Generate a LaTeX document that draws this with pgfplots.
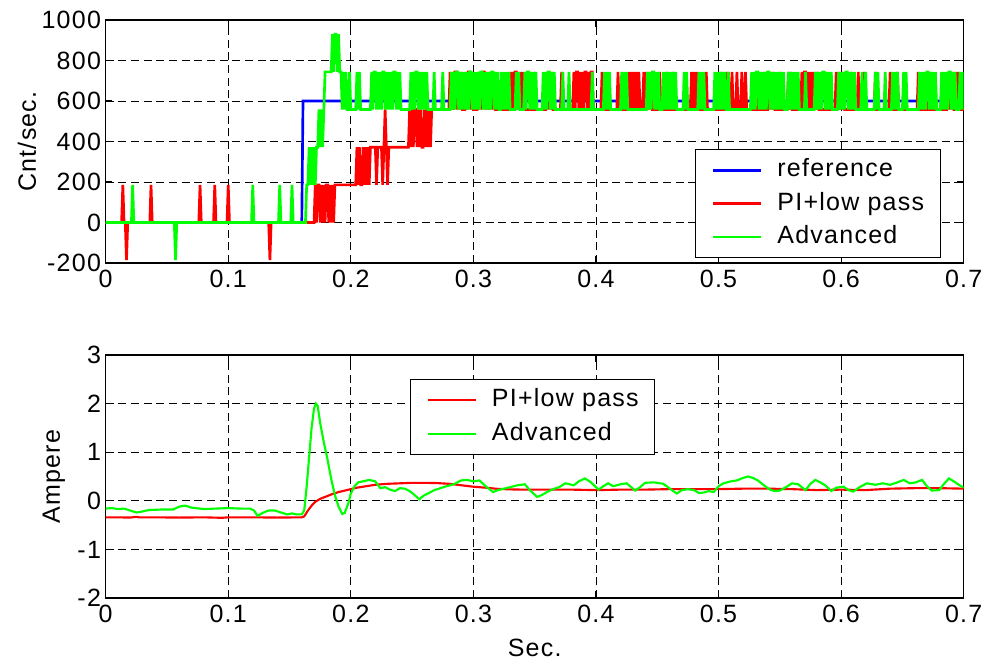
\documentclass[border=0pt]{standalone}
\usepackage{pgfplots}
\pgfplotsset{compat=1.18}
\usepackage{fontspec}
\setmainfont[LetterSpace=5]{Liberation Sans}
\definecolor{mblue}{RGB}{0,0,255}
\definecolor{mred}{RGB}{255,0,0}
\definecolor{mgreen}{RGB}{0,255,0}
\pgfplotsset{
  mstyle/.style={
    scale only axis, width=643.5pt, height=182.25pt,
    xmin=0, xmax=700, xtick={0,100,200,300,400,500,600,700},
    xticklabels={0,0.1,0.2,0.3,0.4,0.5,0.6,0.7},
    tick align=inside, major tick length=5pt,
    grid=major, major grid style={black, line width=0.5pt, dash pattern=on 6pt off 3.5pt},
    axis line style={line width=0.9pt},
    every tick/.style={black, line width=0.9pt},
    tick label style={font=\fontsize{18.75}{22}\selectfont},
    label style={font=\fontsize{18.75}{22}\selectfont},
    xticklabel style={yshift=-2pt},
    legend cell align=left,
    legend image code/.code={\draw[##1] (0pt,0pt) -- (36pt,0pt);},
    legend style={font=\fontsize{18.75}{22}\selectfont, draw=black, line width=0.9pt,
      inner xsep=12pt, inner ysep=4.5pt, row sep=3pt,
      nodes={inner xsep=0pt, inner ysep=2pt, text height=14pt, text depth=4pt},
      /tikz/every odd column/.append style={column sep=11.25pt}},
  }
}
\begin{document}
\begin{tikzpicture}
\useasboundingbox (1pt,0) rectangle (739pt,-495.75pt);
\begin{axis}[mstyle, at={(80.25pt,-15pt)}, anchor=north west,
  ymin=-200, ymax=1000, ytick={-200,0,200,400,600,800,1000},
  yticklabels={-200,0,200,400,600,800,1000},
  ylabel={Cnt/sec.}, ylabel style={at={(axis description cs:-0.0918,0.5)}, anchor=center},
  legend style={at={(0.687,0.469)}, anchor=north west}]
\addplot[mblue, line width=2pt] coordinates {(0,0)(160,0)(161,600)(700,600)};
\addlegendentry{reference}
\addplot[mred, line width=2pt] coordinates {
(0,0)(13,0)(14,186)(15,0)(16,0)(17,-186)(18,0)(36,0)(37,186)(38,0)(76,0)(77,186)(78,0)(88,0)(89,186)(90,0)(99,0)(100,186)(101,0)(133,0)(134,-186)(135,0)
(170,0)(171,186)(172,0)(173,186)(174,186)(175,0)(176,186)(177,0)(178,186)(179,0)(180,186)(181,186)(182,0)(183,186)(184,0)(185,186)(186,0)(187,186)(188,186)
(204,186)(205,372)(206,186)(207,372)(208,186)(209,186)(210,372)(211,186)(212,372)(213,186)(214,372)(215,186)(216,372)
(220,372)(221,186)(222,372)(225,372)(226,186)(227,372)(228,558)(229,372)(230,186)(231,372)
(247,372)(248,558)(249,372)(250,558)(251,372)(252,558)(253,558)(254,372)(255,558)(256,372)(257,558)(258,372)(259,372)(260,558)(261,372)(262,558)(263,372)(264,558)(265,372)(266,558)
(280,558)(281,744)(282,558)(283,744)(284,558)(285,744)(286,744)(287,558)(288,744)(289,558)(290,744)(291,558)
(293,558)(294,744)(295,558)(296,744)(297,744)(298,558)(299,744)(300,558)
(303,558)(304,744)(305,558)(306,744)(307,558)(308,744)(309,744)(310,558)(311,744)(312,558)(313,744)(314,558)(315,744)(316,558)(317,744)(318,558)
(329,558)(330,744)(331,558)(332,744)(333,558)(334,744)(335,744)(336,558)(337,744)(338,558)(339,744)(340,558)(341,744)(342,558)
(349,558)(350,744)(351,558)
(359,558)(360,744)(361,558)(362,744)(363,558)(364,744)(365,558)
(371,558)(372,744)(373,558)
(381,558)(382,744)(383,558)(384,744)(385,744)(386,558)(387,744)(388,558)(389,744)(390,558)(391,744)(392,744)(393,558)(394,744)(395,558)(396,744)(397,744)(398,558)
(404,558)(405,744)(406,558)
(417,558)(418,744)(419,558)
(426,558)(427,744)(428,558)(429,744)(430,558)(431,744)(432,558)(433,744)(434,558)(435,744)(436,558)
(438,558)(439,744)(440,558)(441,744)(442,558)(443,744)(444,558)(445,744)(446,558)
(451,558)(452,744)(453,558)(457,558)(458,744)(459,558)(462,558)(463,744)(464,558)
(477,558)(478,744)(479,558)(480,744)(481,558)(482,744)(483,558)
(489,558)(490,744)(491,558)
(501,558)(502,744)(503,558)(505,558)(506,744)(507,558)(508,744)(509,558)(510,558)(511,744)(512,558)(514,558)(515,744)(516,558)(518,558)(519,744)(520,558)(521,558)(522,744)(523,558)
(530,558)(531,744)(532,558)(536,558)(537,744)(538,558)
(540,558)(541,744)(542,558)(543,744)(544,558)(545,744)(546,558)
(549,558)(550,744)(551,558)
(556,558)(557,744)(558,558)(559,744)(560,558)
(567,558)(568,744)(569,558)(570,744)(571,744)(572,558)(573,744)(574,558)(575,744)(576,558)(577,744)(578,558)(579,744)(580,558)(581,744)(582,558)
(587,558)(588,744)(589,558)
(595,558)(596,744)(597,558)(598,744)(599,558)(600,744)(601,558)(602,744)(603,558)
(607,558)(608,744)(609,558)
(613,558)(614,744)(615,558)(618,558)(619,744)(620,558)
(627,558)(628,744)(629,558)
(639,558)(640,744)(641,558)(645,558)(646,744)(647,558)
(662,558)(663,744)(664,558)
(671,558)(672,744)(673,558)
(686,558)(687,744)(688,558)(689,744)(690,558)(691,744)(692,558)(693,558)(694,744)(695,558)(696,744)(697,558)(700,558)
};
\addlegendentry{PI+low pass}
\addplot[mgreen, line width=2pt] coordinates {
(0,0)(21,0)(22,186)(23,0)(56,0)(57,-186)(58,0)(119,0)(120,186)(121,0)(141,0)(142,186)(143,0)(151,0)(152,186)(153,0)(163,0)(164,186)(165,186)(166,372)(167,186)(168,372)(169,186)(170,372)(171,186)(172,372)(173,372)(174,558)(175,372)(176,558)(177,372)(178,558)(179,744)(184,744)(185,930)(186,744)(187,930)(188,930)(189,744)(190,930)(191,744)(192,744)(193,558)(194,744)(195,558)(196,744)(197,558)(198,558)(199,744)(200,558)
(204,558)(205,744)(206,558)(207,744)(208,558)
(216,558)(217,744)(218,558)(219,744)(220,744)(221,558)(222,744)(223,558)(224,744)(225,558)(226,744)(227,744)(228,558)(229,744)(230,558)(231,744)(232,558)(233,744)(234,558)(235,744)(236,744)(237,558)(238,744)(239,558)(240,744)(241,558)
(248,558)(249,744)(250,558)(251,744)(252,558)(253,744)(254,744)(255,558)(256,744)(257,558)(258,744)(259,558)(260,744)(261,558)(262,744)(263,558)
(267,558)(268,744)(269,558)(274,558)(275,744)(276,558)
(281,558)(282,744)(283,558)(284,744)(285,558)(286,744)(287,744)(288,558)(289,744)(290,558)(291,744)(292,558)(293,744)(294,558)(295,744)(296,558)(297,744)(298,744)(299,558)(300,744)(301,558)(302,744)(303,558)(304,744)(305,558)(306,744)(307,744)(308,558)(309,744)(310,558)(311,744)(312,558)(313,744)(314,558)(315,744)(316,744)(317,558)(318,744)(319,558)(320,744)(321,558)
(322,558)(323,744)(324,558)(325,744)(326,558)(327,744)(328,558)(329,744)(330,558)
(334,558)(335,744)(336,558)(337,744)(338,558)
(341,558)(342,744)(343,558)(344,744)(345,744)(346,558)(347,744)(348,558)(349,744)(350,558)(351,744)(352,558)
(356,558)(357,744)(358,558)(359,744)(360,558)(361,744)(362,744)(363,558)(364,744)(365,558)(366,744)(367,558)
(372,558)(373,744)(374,558)(377,558)(378,744)(379,558)
(396,558)(397,744)(398,558)
(406,558)(407,744)(408,558)(409,744)(410,558)(411,744)(412,558)
(420,558)(421,744)(422,558)(423,744)(424,558)(425,744)(426,558)
(441,558)(442,744)(443,558)(444,744)(445,558)(446,744)(447,744)(448,558)(449,744)(450,558)(451,744)(452,558)(454,558)(455,744)(456,558)(457,744)(458,558)(459,744)(460,558)(461,744)(462,558)(463,744)(464,558)(465,744)(466,558)
(471,558)(472,744)(473,558)(474,744)(475,558)
(483,558)(484,744)(485,558)(486,744)(487,558)(488,744)(489,558)
(496,558)(497,744)(498,558)(499,744)(500,558)(501,744)(502,558)(503,744)(504,558)(505,744)(506,558)(507,558)(508,744)(509,558)
(526,558)(527,744)(528,558)(529,744)(530,558)(531,744)(532,744)(533,558)(534,744)(535,558)(536,744)(537,558)(538,744)(539,558)(540,744)(541,744)(542,558)(543,744)(544,558)(545,744)(546,558)(547,744)(548,558)(549,744)(550,558)(551,744)(552,558)(553,744)(554,558)
(556,558)(557,744)(558,558)(559,744)(560,558)(561,744)(562,558)(563,744)(564,558)(565,744)(566,558)
(570,558)(571,744)(572,558)
(578,558)(579,744)(580,558)(581,744)(582,558)(583,744)(584,558)(585,744)(586,744)(587,558)(588,744)(589,558)(590,744)(591,558)(592,744)(593,558)
(597,558)(598,744)(599,558)(600,744)(601,558)(602,744)(603,558)(604,744)(605,744)(606,558)(607,744)(608,558)(609,744)(610,558)(611,744)(612,558)
(616,558)(617,744)(618,558)(619,558)(620,744)(621,558)
(627,558)(628,744)(629,558)(630,744)(631,558)
(635,558)(636,744)(637,558)
(641,558)(642,744)(643,558)(644,744)(645,558)(646,744)(647,558)
(650,558)(651,744)(652,558)(653,744)(654,558)
(663,558)(664,744)(665,558)(666,744)(667,558)(668,744)(669,558)(670,744)(671,744)(672,558)(673,744)(674,558)(675,744)(676,558)(677,744)(678,558)
(681,558)(682,744)(683,558)(684,744)(685,558)(686,744)(687,558)(688,744)(689,744)(690,558)(691,744)(692,558)(693,744)(694,558)
(696,558)(697,744)(698,558)(699,744)(700,558)
};
\addlegendentry{Advanced}
\end{axis}
\begin{axis}[mstyle, at={(80.25pt,-266.25pt)}, anchor=north west,
  ymin=-2, ymax=3, ytick={-2,-1,0,1,2,3},
  yticklabels={-2,-1,0,1,2,3},
  ylabel={Ampere}, ylabel style={at={(axis description cs:-0.0604,0.5)}, anchor=center},
  xlabel={Sec.}, xlabel style={at={(axis description cs:0.5,-0.206)}, anchor=center},
  legend style={at={(0.355,0.901)}, anchor=north west}]
\addplot[mred, line width=1.6pt] coordinates {
(0,-0.34)(10,-0.34)(20,-0.345)(25,-0.33)(27,-0.34)(40,-0.34)(60,-0.345)(80,-0.34)(95,-0.35)(100,-0.34)(120,-0.34)(140,-0.345)(160,-0.34)(162,-0.32)(165,-0.2)(168,-0.1)(171,-0.02)(175,0.04)(180,0.09)(185,0.14)(190,0.18)(195,0.21)(200,0.24)(205,0.27)(210,0.29)(215,0.31)(220,0.33)(230,0.35)(240,0.36)(250,0.37)(260,0.37)(270,0.365)(280,0.35)(290,0.32)(300,0.29)(310,0.27)(320,0.245)(330,0.235)(340,0.23)(350,0.23)(360,0.23)(380,0.23)(400,0.22)(420,0.23)(440,0.23)(460,0.24)(480,0.24)(500,0.24)(520,0.25)(540,0.25)(560,0.24)(580,0.22)(600,0.23)(620,0.22)(640,0.25)(660,0.26)(680,0.26)(700,0.25)
};
\addlegendentry{PI+low pass}
\addplot[mgreen, line width=1.6pt] coordinates {
(0,-0.16)(5,-0.15)(10,-0.17)(15,-0.16)(20,-0.2)(25,-0.24)(30,-0.22)(35,-0.19)(45,-0.18)(55,-0.18)(60,-0.12)(65,-0.1)(70,-0.14)(80,-0.17)(90,-0.16)(100,-0.15)(110,-0.16)(118,-0.16)(121,-0.2)(124,-0.31)(128,-0.25)(133,-0.2)(138,-0.2)(143,-0.24)(148,-0.28)(152,-0.26)(156,-0.28)(160,-0.28)(162,-0.2)(164,0.3)(166,0.9)(168,1.5)(170,1.9)(171.5,2.0)(173,1.95)(175,1.6)(178,1.2)(181,0.85)(184,0.45)(187,0.12)(190,-0.12)(193,-0.27)(195,-0.25)(198,-0.05)(200,0.15)(203,0.3)(206,0.38)(210,0.4)(215,0.43)(220,0.4)(224,0.26)(228,0.28)(232,0.23)(236,0.2)(240,0.26)(244,0.25)(248,0.2)(252,0.12)(256,0.03)(259,0.1)(263,0.15)(268,0.22)(272,0.25)(278,0.3)(284,0.34)(290,0.42)(295,0.43)(300,0.4)(305,0.42)(310,0.3)(316,0.18)(320,0.22)(325,0.25)(330,0.28)(336,0.32)(342,0.34)(346,0.22)(352,0.08)(356,0.12)(360,0.18)(365,0.24)(370,0.28)(375,0.36)(382,0.32)(386,0.4)(391,0.46)(396,0.38)(402,0.23)(406,0.3)(410,0.36)(414,0.3)(420,0.34)(425,0.36)(432,0.21)(436,0.28)(440,0.37)(447,0.38)(455,0.35)(462,0.22)(466,0.15)(470,0.22)(475,0.24)(480,0.22)(484,0.16)(488,0.17)(492,0.2)(496,0.18)(500,0.3)(504,0.36)(510,0.4)(515,0.42)(520,0.47)(524,0.5)(528,0.47)(532,0.42)(537,0.32)(542,0.23)(546,0.2)(550,0.21)(555,0.28)(560,0.36)(565,0.34)(571,0.22)(575,0.35)(579,0.43)(583,0.38)(587,0.32)(592,0.2)(596,0.27)(602,0.29)(606,0.22)(610,0.19)(615,0.28)(621,0.36)(628,0.33)(634,0.36)(640,0.33)(646,0.38)(651,0.43)(656,0.36)(661,0.38)(666,0.43)(670,0.3)(674,0.21)(680,0.22)(684,0.35)(688,0.46)(692,0.4)(696,0.33)(700,0.27)
};
\addlegendentry{Advanced}
\end{axis}
\end{tikzpicture}
\end{document}
